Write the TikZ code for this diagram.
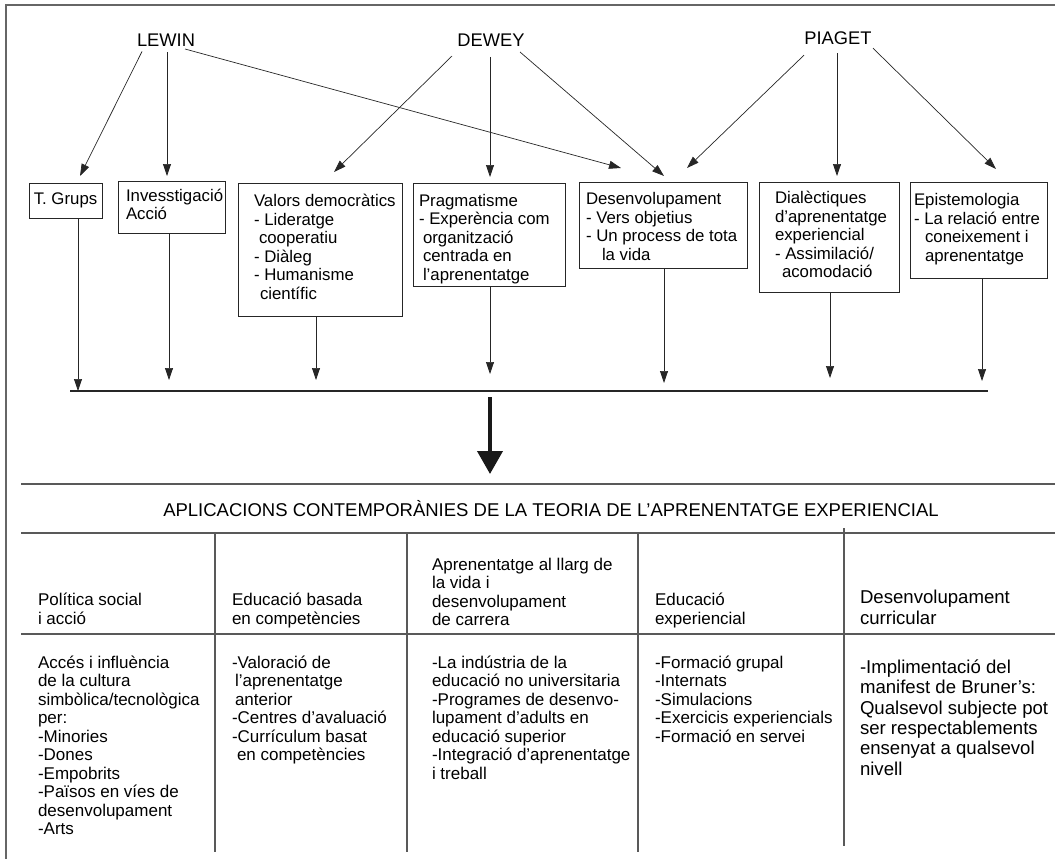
\documentclass[tikz,border=0pt]{standalone}
\usepackage{fontspec}
\setmainfont{Liberation Sans}
\usetikzlibrary{arrows.meta,calc}

% fonts (1pt = 1 unit of the drawing)
\newcommand\dgname{\fontsize{18.3}{20}\selectfont}
\newcommand\dgtitle{\fontsize{18.5}{20}\selectfont}
\newcommand\dgbox{\fontsize{16.8}{18.5}\selectfont}
\newcommand\dgcell{\fontsize{17}{18.5}\selectfont}
\newcommand\dgbig{\fontsize{18.6}{20.4}\selectfont}
% a left-aligned stack of lines
\newcommand\stk[1]{\begin{tabular}{@{}l@{}}#1\end{tabular}}
% box content: width, left padding, extra room above the first line, lines
\newcommand\inbox[4]{\makebox[#1pt][l]{\hspace*{#2pt}\stk{\rule{0pt}{\dimexpr12.95pt+#3pt\relax}#4}}}

\begin{document}
\begin{tikzpicture}[x=1pt,y=-1pt,
  every node/.style={inner sep=0pt, outer sep=0pt},
  author/.style={font=\dgname, anchor=base},
  box/.style={draw=black!85, line width=0.9pt, anchor=north west, font=\dgbox},
  arr/.style={line width=0.7pt, draw=black!85, -{Triangle[length=12pt,width=8pt]}},
  bus/.style={line width=1.4pt, draw=black!85},
  bigarr/.style={line width=4pt, draw=black!90, -{Triangle[length=23pt,width=25pt]}},
  rule/.style={line width=1.4pt, draw=black!65},
  frame/.style={line width=1.2pt, draw=black!60},
  cell/.style={anchor=north west, font=\dgcell},
  bigcell/.style={anchor=north west, font=\dgbig},
  tabletitle/.style={anchor=base, font=\dgtitle}
]
\useasboundingbox (0,0) rectangle (1055,859);

% outer frame (top and left sides)
\draw[frame] (1055,5) -- (6,5) -- (6,859);

% authors
\node[author] (lewin)  at (166,46.5) {LEWIN};
\node[author] (dewey)  at (491,46.5) {DEWEY};
\node[author] (piaget) at (838,44.5) {PIAGET};

% concept boxes
\node[box, minimum height=35] (tgrups) at (29,183)
  {\makebox[73pt][c]{T. Grups}};
\node[box, minimum height=52] (invest) at (118,181)
  {\inbox{107}{8}{0}{Invesstigació\\Acció}};
\node[box, minimum height=133] (valors) at (238,183)
  {\inbox{164}{16}{0}{Valors democràtics\\- Lideratge\\\hspace*{5pt}cooperatiu\\- Diàleg\\- Humanisme\\\hspace*{6pt}científic}};
\node[box, minimum height=103] (pragma) at (413,183)
  {\inbox{152}{6}{10}{Pragmatisme\\- Experència com\\\hspace*{4pt}organització\\\hspace*{4pt}centrada en\\\hspace*{4pt}l’aprenentatge}};
\node[box, minimum height=86] (desenv) at (579,182)
  {\inbox{168}{7}{8}{Desenvolupament\\- Vers objetius\\- Un process de tota\\\hspace*{16pt}la vida}};
\node[box, minimum height=110] (dialec) at (759,182)
  {\inbox{140}{16}{0}{Dialèctiques\\d’aprenentatge\\experiencial\\- Assimilació/\\\hspace*{7pt}acomodació}};
\node[box, minimum height=96] (episte) at (910,182)
  {\inbox{137}{4}{0}{Epistemologia\\- La relació entre\\\hspace*{11pt}coneixement i\\\hspace*{11pt}aprenentatge}};

% influences
\draw[arr] ($(lewin.south)+(-24,5)$)  -- ($(tgrups.north)+(14.5,-7)$);
\draw[arr] ($(lewin.south)+(1,6)$)    -- ($(invest.north)+(-4.5,-5)$);
\draw[arr] ($(lewin.south)+(19,2.5)$) -- ($(desenv.north)+(-42,-14)$);
\draw[arr] ($(dewey.south)+(-39,9.5)$) -- ($(valors.north)+(14,-11)$);
\draw[arr] ($(dewey.south)+(-1,10.5)$) -- ($(pragma.north)+(1,-6)$);
\draw[arr] ($(dewey.south)+(29,5.5)$)  -- ($(desenv.north)+(1,-6)$);
\draw[arr] ($(piaget.south)+(-34,10.5)$) -- ($(desenv.north)+(24,-14)$);
\draw[arr] ($(piaget.south)+(-1,8.5)$)   -- ($(dialec.north)+(8,-6)$);
\draw[arr] ($(piaget.south)+(35,3.5)$)   -- ($(episte.north)+(17.5,-13)$);

% collecting line and its arrows
\coordinate (busL) at (70,391);
\coordinate (busR) at (988,391);
\draw[bus] (busL) -- (busR);
\coordinate (b1) at (78,391);
\coordinate (b2) at (169,380);
\coordinate (b3) at (316,380);
\coordinate (b4) at (490,374);
\coordinate (b5) at (664,383);
\coordinate (b6) at (830,378);
\coordinate (b7) at (982,381);
\draw[arr] (tgrups.south -| b1) -- (b1);
\draw[arr] (invest.south -| b2) -- (b2);
\draw[arr] (valors.south -| b3) -- (b3);
\draw[arr] (pragma.south -| b4) -- (b4);
\draw[arr] (desenv.south -| b5) -- (b5);
\draw[arr] (dialec.south -| b6) -- (b6);
\draw[arr] (episte.south -| b7) -- (b7);

% main arrow down to the applications
\coordinate (bigS) at (490,397);
\coordinate (bigE) at (490,474);
\draw[bigarr] (bigS) -- (bigE);

% applications table
\draw[rule] (21,484) -- (1055,484);
\draw[rule] (21,533) -- (1055,533);
\draw[rule] (21,634) -- (1055,634);
\draw[rule] (215,533) -- (215,852);
\draw[rule] (407,533) -- (407,852);
\draw[rule] (638,533) -- (638,852);
\draw[rule] (844,528) -- (844,846);

\node[tabletitle] (apltitle) at (551,516.5)
  {APLICACIONS CONTEMPORÀNIES DE LA TEORIA DE L’APRENENTATGE EXPERIENCIAL};

% column headings
\node[cell] (h1) at (38,593)  {\stk{Política social\\i acció}};
\node[cell] (h2) at (232,593) {\stk{Educació basada\\en competències}};
\node[cell] (h3) at (432,557.5) {\stk{Aprenentatge al llarg de\\la vida i\\desenvolupament\\de carrera}};
\node[cell] (h4) at (655,593) {\stk{Educació\\experiencial}};
\node[bigcell] (h5) at (860,589.5) {\stk{Desenvolupament\\curricular}};

% column contents
\node[cell] (c1) at (38,655.5) {\stk{Accés i influència\\de la cultura\\simbòlica/tecnològica\\per:\\-Minories\\-Dones\\-Empobrits\\-Països en víes de\\desenvolupament\\-Arts}};
\node[cell] (c2) at (232,655.5) {\stk{-Valoració de\\\hspace*{3pt}l’aprenentatge\\\hspace*{3pt}anterior\\-Centres d’avaluació\\-Currículum basat\\\hspace*{5pt}en competències}};
\node[cell] (c3) at (432,655.5) {\stk{-La indústria de la\\educació no universitaria\\-Programes de desenvo-\\lupament d’adults en\\educació superior\\-Integració d’aprenentatge\\i treball}};
\node[cell] (c4) at (655,655.5) {\stk{-Formació grupal\\-Internats\\-Simulacions\\-Exercicis experiencials\\-Formació en servei}};
\node[bigcell] (c5) at (860,659) {\stk{-Implimentació del\\manifest de Bruner’s:\\Qualsevol subjecte pot\\ser respectablements\\ensenyat a qualsevol\\nivell}};
\end{tikzpicture}
\end{document}
